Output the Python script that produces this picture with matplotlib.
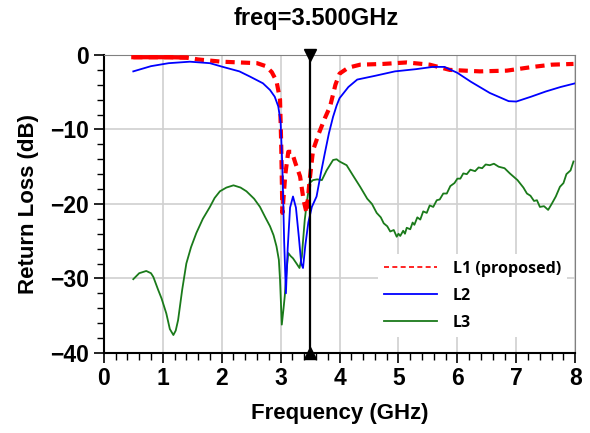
import numpy as np
import matplotlib
matplotlib.use("Agg")
import matplotlib.pyplot as plt
from matplotlib.lines import Line2D

plt.rcParams['font.family'] = ['Liberation Sans', 'DejaVu Sans']

# L1 (proposed)
f_l1 = [0.5, 0.8, 1.1, 1.4, 1.6, 2.0, 2.3, 2.6, 2.75, 2.85, 2.93, 2.99, 3.01, 3.03,
        3.08, 3.13, 3.19, 3.25, 3.33, 3.39, 3.44, 3.49, 3.55, 3.65, 3.75, 3.84,
        3.93, 4.0, 4.15, 4.35, 4.74, 5.14, 5.53, 5.87, 6.38, 6.84, 7.28, 7.6, 7.97]
db_l1 = [-0.3, -0.3, -0.3, -0.35, -0.6, -0.9, -1.0, -1.1, -1.5, -2.3, -3.5, -6.0, -12.0, -21.2,
         -16.0, -13.0, -13.0, -14.5, -16.3, -19.5, -21.2, -17.0, -12.8, -10.5, -8.5, -6.9,
         -4.0, -2.5, -1.7, -1.3, -1.2, -1.0, -1.3, -2.0, -2.2, -2.1, -1.6, -1.3, -1.2]

# L2
f_l2 = [0.5, 0.8, 1.1, 1.46, 1.8, 2.02, 2.3, 2.48, 2.7, 2.82, 2.9, 2.96, 3.0, 3.03,
        3.06, 3.09, 3.12, 3.16, 3.21, 3.26, 3.31, 3.35, 3.38, 3.42, 3.47, 3.53,
        3.61, 3.68, 3.75, 3.82, 3.89, 3.95, 4.0, 4.15, 4.3, 4.6, 4.94, 5.3, 5.58, 5.78,
        6.0, 6.23, 6.55, 6.87, 7.0, 7.25, 7.5, 7.75, 8.0]
db_l2 = [-2.2, -1.5, -1.1, -0.9, -1.1, -1.6, -2.2, -2.9, -3.8, -4.7, -5.6, -6.9, -9.0, -15.0,
         -25.0, -32.0, -26.0, -20.5, -19.0, -20.5, -24.5, -28.0, -28.6, -25.5, -22.5, -20.4,
         -19.0, -16.0, -13.2, -10.5, -8.3, -6.8, -5.8, -4.3, -3.3, -2.8, -2.2, -1.9, -1.6, -1.6,
         -2.4, -3.6, -5.1, -6.2, -6.25, -5.6, -4.9, -4.3, -3.8]

# L3
f_l3 = [0.5, 0.6, 0.72, 0.8, 0.84, 0.92, 0.98, 1.06, 1.12, 1.18, 1.22, 1.26, 1.33, 1.40,
        1.48, 1.57, 1.68, 1.80, 1.88, 1.97, 2.08, 2.20, 2.32, 2.42, 2.55, 2.65, 2.74,
        2.82, 2.88, 2.93, 2.97, 2.99, 3.02, 3.05, 3.07, 3.10, 3.13, 3.17, 3.21, 3.27,
        3.32, 3.36, 3.38, 3.41, 3.45, 3.49, 3.55, 3.62, 3.70, 3.78, 3.89, 3.95, 4.0,
        4.12, 4.23, 4.35, 4.47, 4.55, 4.63, 4.70, 4.75, 4.81, 4.86, 4.92, 4.97, 5.0, 5.03, 5.08,
        5.11, 5.14, 5.2, 5.24, 5.27, 5.32, 5.37, 5.42, 5.48, 5.53, 5.59, 5.65, 5.7, 5.76, 5.82,
        5.88, 5.95, 6.0, 6.05, 6.1, 6.16, 6.22, 6.3, 6.36, 6.42, 6.48, 6.55, 6.62, 6.7, 6.8, 6.89,
        7.02, 7.12, 7.18, 7.24, 7.3, 7.35, 7.40, 7.47, 7.54, 7.6, 7.67, 7.74, 7.8, 7.85, 7.92, 7.97]
db_l3 = [-30.1, -29.3, -29.0, -29.3, -29.8, -31.5, -32.7, -34.7, -36.8, -37.6, -37.0, -35.6, -31.5, -28.0,
         -25.8, -23.9, -22.0, -20.4, -19.2, -18.3, -17.8, -17.5, -17.8, -18.3, -19.3, -20.4, -21.8,
         -23.0, -24.2, -25.7, -27.5, -30.2, -36.2, -34.0, -32.4, -29.0, -26.6, -27.0, -27.3, -28.0,
         -28.6, -27.1, -25.0, -22.1, -19.5, -17.2, -16.8, -16.7, -16.8, -15.5, -14.1, -14.0, -14.3,
         -14.8, -16.2, -17.7, -19.3, -20.0, -21.2, -21.8, -22.6, -23.0, -23.7, -23.5, -24.4, -24.0, -24.3, -23.6,
         -24.0, -23.2, -23.4, -22.5, -22.8, -21.8, -22.1, -21.0, -21.2, -20.2, -20.4, -19.5, -19.4, -18.6, -18.6,
         -17.6, -17.2, -16.6, -16.6, -15.9, -16.0, -15.4, -15.6, -15.1, -15.2, -14.7, -14.8, -14.6, -15.0, -15.2, -15.9,
         -16.8, -17.8, -18.6, -18.9, -19.6, -19.5, -20.4, -20.3, -20.8, -20.0, -19.0, -17.7, -17.2, -16.0, -15.5, -14.3]

marker_freq = 3.5
xticks = np.arange(0, 9, 1)
yticks = np.arange(-40, 1, 10)

fig = plt.figure(figsize=(5.9, 4.33), dpi=100)
ax = fig.add_axes([0.176, 0.185, 0.799, 0.688])

ax.grid(True, color='#d0d0d0', linewidth=1.2, zorder=0)

f1 = np.array(f_l1)
d1 = np.array(db_l1)
ax.plot(f1, d1, color='#ff0000', linewidth=3, linestyle=(0, (2.2, 1.5)), zorder=3)
solid = f1 <= 1.45
ax.plot(f1[solid], d1[solid], color='#ff0000', linewidth=3, zorder=3)
ax.plot(f_l2, db_l2, color='#0000ff', linewidth=1.3, zorder=4)
ax.plot(f_l3, db_l3, color='#1a7a1a', linewidth=1.3, zorder=2)

# marker line
ax.plot([marker_freq, marker_freq], [0, -40], color='black', linewidth=1.6, zorder=5)
ax.plot([marker_freq], [0], marker='v', color='black', markersize=9, clip_on=False, zorder=6)
ax.plot([marker_freq], [-40], marker='^', color='black', markersize=9, clip_on=False, zorder=6)

ax.set_xlim(0, 8)
ax.set_ylim(-40, 0)
ax.set_xticks(xticks)
ax.set_yticks(yticks)
ax.set_xticks(np.arange(0, 8.01, 0.2), minor=True)
ax.set_yticks(np.arange(-40, 0.01, 2), minor=True)
ax.tick_params(axis='both', which='major', labelsize=16.5, length=7, width=1.2, direction='out')
ax.tick_params(axis='both', which='minor', length=5, width=1.0, direction='out')
for lab in ax.get_xticklabels() + ax.get_yticklabels():
    lab.set_fontweight('bold')

for side in ['top', 'right']:
    ax.spines[side].set_color('#808080')
for side in ['left', 'bottom']:
    ax.spines[side].set_linewidth(1.5)

ax.set_xlabel('Frequency (GHz)', fontsize=16, fontweight='bold', labelpad=9)
ax.set_ylabel('Return Loss (dB)', fontsize=16, fontweight='bold', labelpad=8)
fig.text(0.536, 0.957, 'freq=3.500GHz', fontsize=17, fontweight='bold', ha='center', va='center')

handles = [Line2D([], [], color='#ff0000', linewidth=1.2, linestyle=(0, (3, 2))),
           Line2D([], [], color='#0000ff', linewidth=1.3),
           Line2D([], [], color='#1a7a1a', linewidth=1.3)]
leg = ax.legend(handles, ['L1 (proposed)', 'L2', 'L3'], loc='lower right',
                bbox_to_anchor=(1.0, 0.025), frameon=True, handlelength=3.3,
                prop={'family': 'Open Sans', 'weight': 'bold', 'size': 11.5},
                labelspacing=0.7, handletextpad=1.0)
leg.get_frame().set_edgecolor('none')
leg.get_frame().set_facecolor('white')
leg.get_frame().set_alpha(1.0)

fig.savefig('out.png', dpi=100)
